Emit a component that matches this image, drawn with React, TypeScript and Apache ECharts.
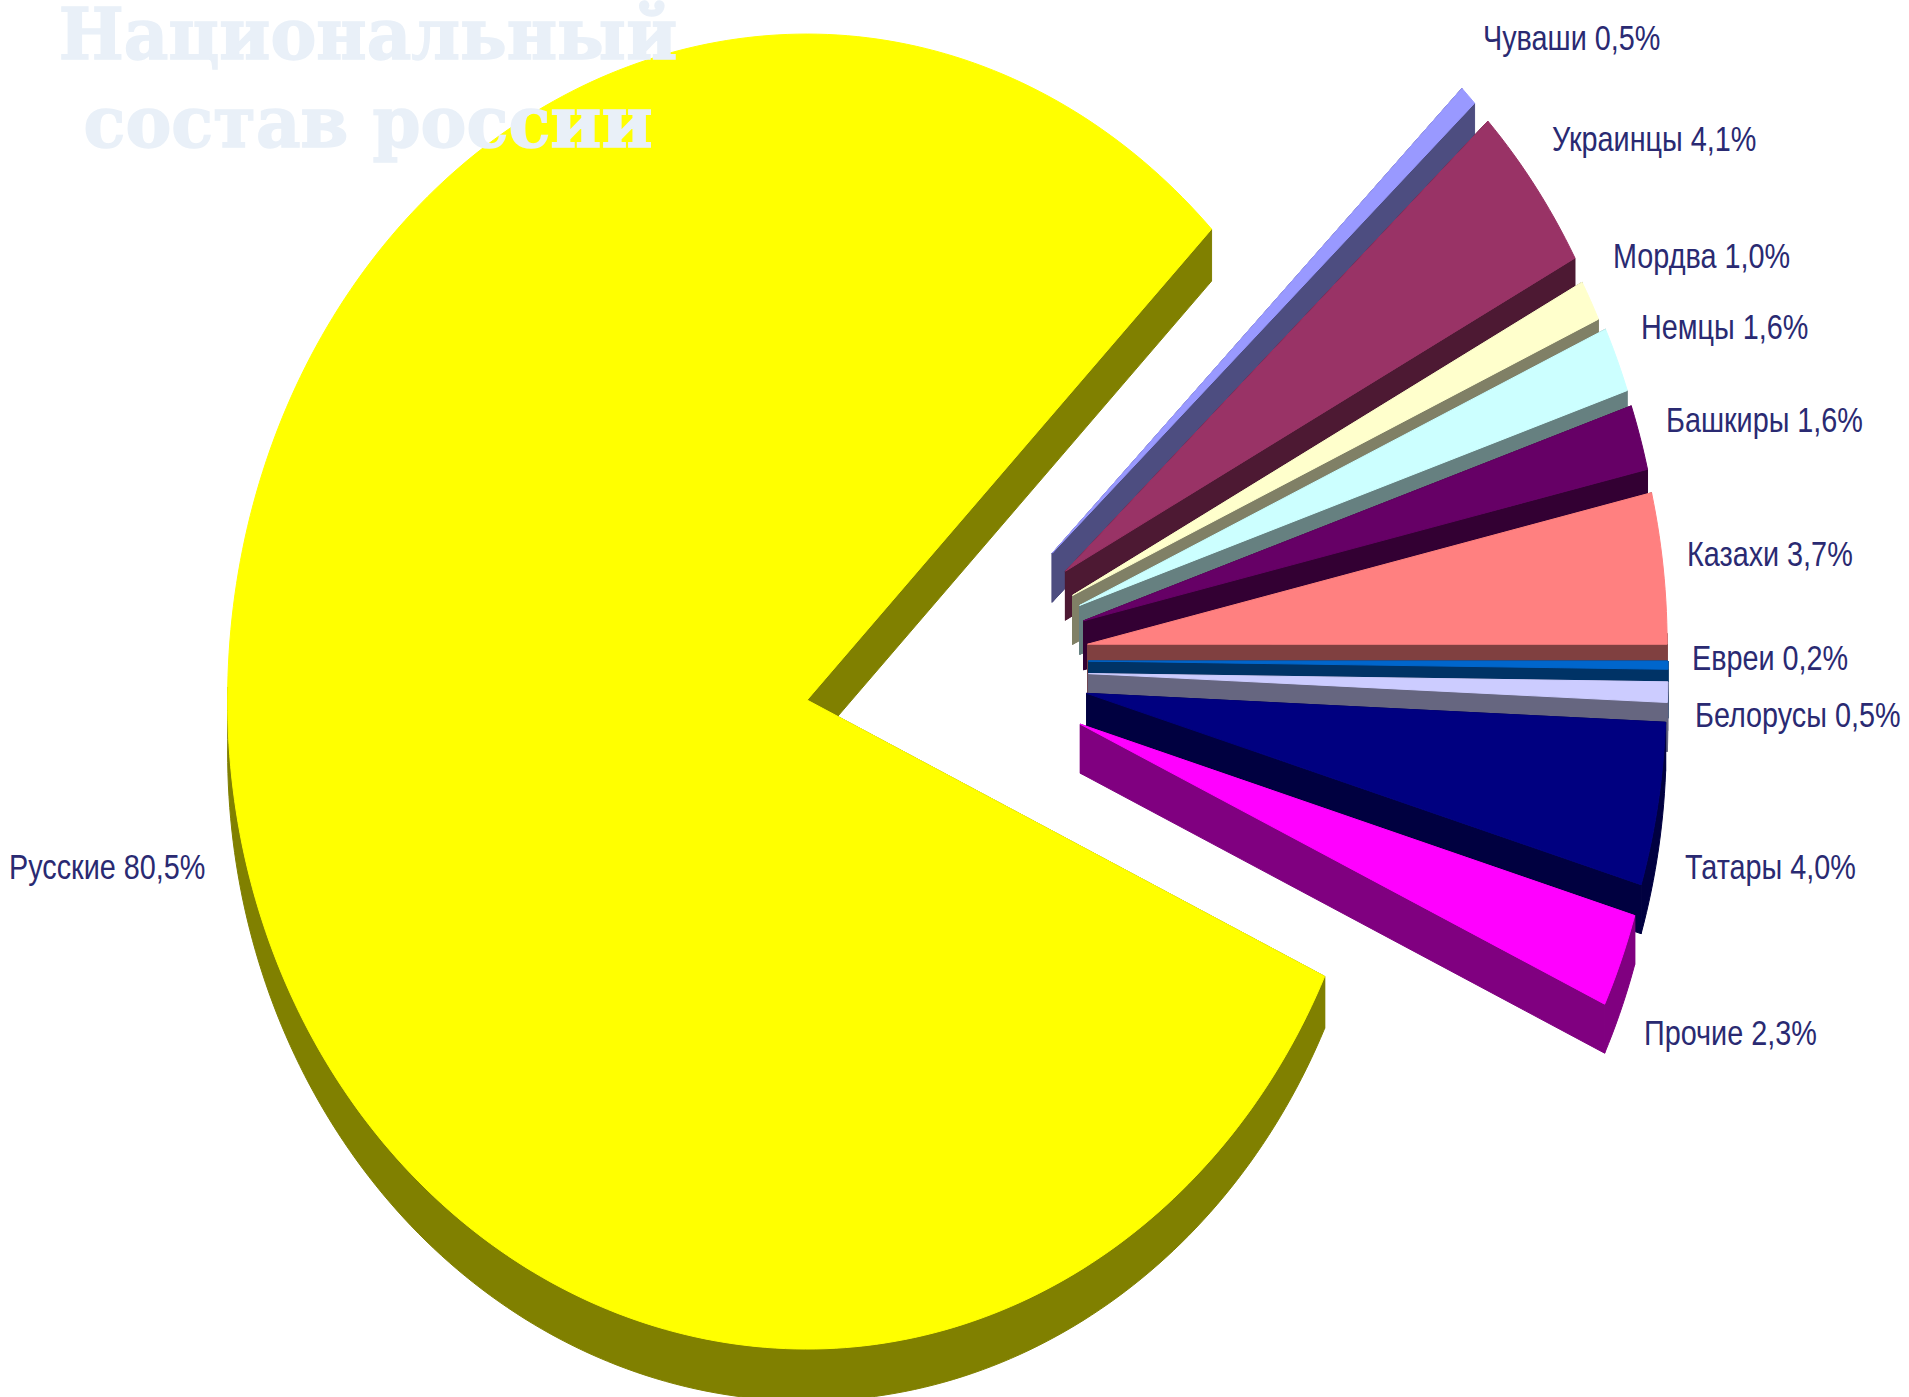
import React, { useEffect, useRef } from "react";
import * as echarts from "echarts";

const names = ["Чуваши", "Украинцы", "Мордва", "Немцы", "Башкиры", "Казахи", "Евреи", "Белорусы", "Татары", "Прочие", "Русские"];
const shares = [0.5, 4.1, 1.0, 1.6, 1.6, 3.7, 0.2, 0.5, 4.0, 2.3, 80.5];
const topColors = ["#9999FF", "#993366", "#FFFFCC", "#CCFFFF", "#660066", "#FF8080", "#0066CC", "#CCCCFF", "#000080", "#FF00FF", "#FFFF00"];
const wallColors = ["#4D4D80", "#4D1933", "#808066", "#668080", "#330033", "#804040", "#003366", "#666680", "#000040", "#800080", "#808000"];
const titleLines = ["Национальный", "состав россии"];

// layout only: where each label sits [left, middle]
const labelAnchors = [
  [1483, 37], [1552, 138], [1613, 255], [1641, 326], [1666, 419], [1687, 553],
  [1692, 657], [1695, 714], [1685, 866], [1644, 1032], [9, 866],
];
// layout only: small per-slice shift of the exploded slice [dx, dy]
const sliceNudges = [
  [-2, 0], [0, 0], [-3, 2], [0, 0], [0, 0], [0, -3], [0, -6], [0, 3], [0, 0], [0, 0], [0, 0],
];

const START_ANGLE = 45;
const HUB = { x: 966.7, y: 666 };
const RX = 579.5;
const RY = 657.5;
const RX_RIGHT_MAIN = 572;
const RY_UP_MAIN = 666;
const RY_DOWN_MAIN = 649;
const DEPTH_SMALL = 49;
const DEPTH_MAIN = 52;
const EXPLODE_SMALL = { x: 121.75, y: 162 };
const EXPLODE_MAIN = { x: 162, y: 198 };

const rad = (d: number) => (d * Math.PI) / 180;

function renderSlice(params: any, api: any) {
  const i = params.dataIndex;
  const isMain = i === shares.length - 1;
  const before = shares.slice(0, i).reduce((a, b) => a + b, 0);
  const sweep = (api.value(0) / 100) * 360;
  const a0 = START_ANGLE - (before / 100) * 360;
  const a1 = a0 - sweep;
  const mid = (a0 + a1) / 2;
  const ex = isMain ? EXPLODE_MAIN : EXPLODE_SMALL;
  const cx = HUB.x + ex.x * Math.cos(rad(mid)) + sliceNudges[i][0];
  const cy = HUB.y - ex.y * Math.sin(rad(mid)) + sliceNudges[i][1];
  const depth = isMain ? DEPTH_MAIN : DEPTH_SMALL;
  const pt = (a: number) => {
    const s = Math.sin(rad(a));
    const c = Math.cos(rad(a));
    const ry = isMain ? (s > 0 ? RY_UP_MAIN : RY_DOWN_MAIN) : RY;
    const rx = isMain && c > 0 ? RX_RIGHT_MAIN : RX;
    return [cx + rx * c, cy - ry * s];
  };
  const steps = Math.max(2, Math.ceil(sweep));
  const arc: number[][] = [];
  for (let k = 0; k <= steps; k++) arc.push(pt(a0 - (sweep * k) / steps));
  const apex = [cx, cy];
  const down = (p: number[]) => [p[0], p[1] + depth];
  const wall = wallColors[i];
  const style = { fill: wall, stroke: wall, lineWidth: 1 };
  const children: any[] = [];
  // walls: the two cut edges and the front part of the rim
  const quad = (p: number[], q: number[]) => ({ type: "polygon", shape: { points: [p, q, down(q), down(p)] }, style });
  children.push(quad(apex, arc[0]));
  children.push(quad(apex, arc[arc.length - 1]));
  const front: number[][] = [];
  for (let k = 0; k <= steps; k++) {
    const a = a0 - (sweep * k) / steps;
    if (Math.sin(rad(a)) <= 0.02) front.push(arc[k]);
  }
  if (front.length > 1) {
    children.push({
      type: "polygon",
      shape: { points: front.concat(front.slice().reverse().map(down)) },
      style,
    });
  }
  children.push({
    type: "polygon",
    shape: { points: [apex, ...arc] },
    style: { fill: topColors[i], stroke: topColors[i], lineWidth: 1 },
  });
  const [lx, ly] = labelAnchors[i];
  children.push({
    type: "text",
    x: lx,
    y: ly,
    scaleX: 0.8,
    style: {
      text: `${names[i]} ${api.value(0).toFixed(1).replace(".", ",")}%`,
      font: '36px "Liberation Sans", Arial, sans-serif',
      fill: "#2A2A72",
      textAlign: "left",
      textVerticalAlign: "middle",
    },
  });
  return { type: "group", children };
}

export default function App() {
  const ref = useRef<HTMLDivElement>(null);
  useEffect(() => {
    document.body.style.margin = "0";
    const chart = echarts.init(ref.current!, null, { renderer: "svg" });
    chart.setOption({
      animation: false,
      backgroundColor: "#FFFFFF",
      series: [
        {
          type: "custom",
          coordinateSystem: "none",
          clip: false,
          silent: true,
          renderItem: renderSlice,
          data: names.map((name, i) => ({ name, value: shares[i] })),
        },
      ],
      graphic: titleLines.map((text, i) => ({
        type: "text",
        z: 100,
        x: 368,
        y: i === 0 ? 66 : 154,
        scaleX: 0.97,
        style: {
          text,
          font: 'bold 71px "DejaVu Serif", serif',
          lineHeight: 64,
          fill: "#E9F0F8",
          stroke: "#E9F0F8",
          lineWidth: 1.5,
          textAlign: "center",
          textVerticalAlign: "bottom",
        },
      })),
    });
    return () => chart.dispose();
  }, []);
  return <div ref={ref} style={{ position: "absolute", left: 0, top: 0, width: 1909, height: 1397, overflow: "hidden" }} />;
}
